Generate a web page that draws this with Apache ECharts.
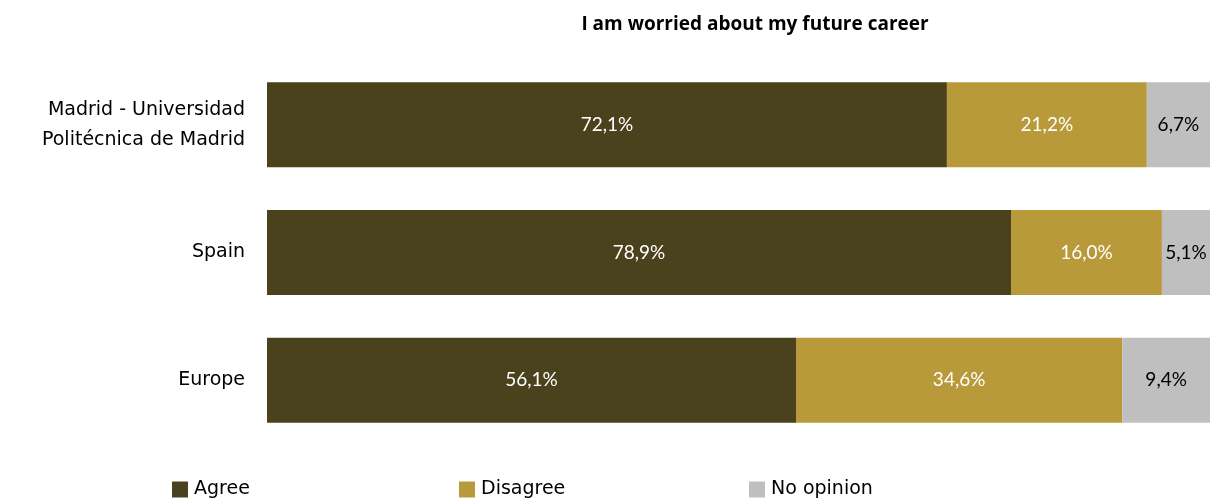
<!DOCTYPE html>
<html><head><meta charset="utf-8">
<script src="https://cdn.jsdelivr.net/npm/echarts@6/dist/echarts.min.js"></script>
<style>html,body{margin:0;padding:0;background:#fff}#c{width:1217px;height:504px}</style>
</head><body><div id="c"></div>
<script>
var categories = ['Madrid - Universidad\nPolitécnica de Madrid', 'Spain', 'Europe'];
var seriesNames = ['Agree', 'Disagree', 'No opinion'];
var agree = [72.1, 78.9, 56.1];
var disagree = [21.2, 16.0, 34.6];
var noOpinion = [6.7, 5.1, 9.4];
var colors = ['#4A421C', '#B89A3A', '#BFBFBF'];
var labelColors = ['#ffffff', '#ffffff', '#000000'];
var font = 'Lato, "Open Sans", sans-serif';
var wideFont = '"DejaVu Sans", sans-serif';
var chart = echarts.init(document.getElementById('c'));
var dataSets = [agree, disagree, noOpinion];
var legendLeft = [167, 454, 744];
chart.setOption({
  animation: false,
  title: {text: 'I am worried about my future career', left: 750, top: 10, textAlign: 'center',
    textStyle: {fontFamily: '"Open Sans", sans-serif', fontSize: 19, fontWeight: 'bold', color: '#000'}},
  legend: seriesNames.map(function(n, i){ return {
    data: [n], left: legendLeft[i], top: 475, itemWidth: 16, itemHeight: 16, icon: 'rect', itemGap: 2,
    textStyle: {fontFamily: wideFont, fontSize: 19, color: '#000', padding: [0,0,0,1]}
  };}),
  grid: {left: 267, right: 7, top: 61, bottom: 60},
  xAxis: {type: 'value', min: 0, max: 100, show: false},
  yAxis: {type: 'category', data: categories, inverse: true,
    axisLine: {show: false}, axisTick: {show: false},
    axisLabel: {fontFamily: wideFont, fontSize: 19, color: '#000', margin: 22, lineHeight: 30, align: 'right'}},
  series: seriesNames.map(function(n, i){ return {
    name: n, type: 'bar', stack: 'total', barWidth: 85, data: dataSets[i],
    itemStyle: {color: colors[i]},
    label: {show: true, position: 'inside', color: labelColors[i], fontFamily: font, fontSize: 19,
      formatter: function(p){ return p.value.toFixed(1).replace('.', ',') + '%'; }}
  };})
});
</script></body></html>
